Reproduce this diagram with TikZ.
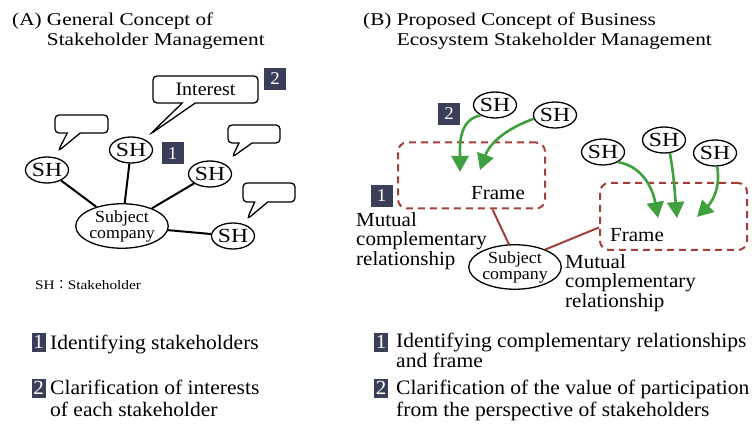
\documentclass[tikz,border=0pt]{standalone}
\usepackage{fontspec}
\setmainfont{Liberation Serif}
\newfontfamily\bodyfont{Liberation Serif}[FakeStretch=1.05]
\newfontfamily\widefont{Liberation Serif}[FakeStretch=1.18]
\newfontfamily\cjk{Noto Sans CJK JP}
\usetikzlibrary{positioning,calc,shapes.geometric,shapes.callouts,arrows.meta}

\definecolor{badgeblue}{RGB}{58,62,88}
\definecolor{framered}{RGB}{160,64,56}
\definecolor{arrowgreen}{RGB}{62,160,62}

\tikzset{
  sh/.style={draw,ellipse,line width=1.3pt,minimum width=43pt,minimum height=26pt,inner sep=0pt,font=\widefont\fontsize{20}{20}\selectfont},
  company/.style={draw,ellipse,line width=1.3pt,inner sep=0pt,align=center,font=\bodyfont\fontsize{17}{16}\selectfont},
  badge/.style={fill=badgeblue,text=white,inner sep=0pt,minimum width=22pt,minimum height=22pt,font=\bodyfont\fontsize{18}{18}\selectfont},
  smallbadge/.style={badge,minimum width=14pt,minimum height=19pt,font=\bodyfont\fontsize{20}{20}\selectfont},
  bubble/.style={draw,rectangle callout,rounded corners=4pt,line width=1.3pt,fill=white,callout pointer width=13pt,inner sep=0pt},
  frbox/.style={draw=framered,dash pattern=on 7pt off 5pt,line width=2pt,rounded corners=9pt,minimum width=147pt,minimum height=66pt},
  relation/.style={draw=framered,line width=2pt},
  valarrow/.style={-{Triangle[length=16pt,width=17pt]},draw=arrowgreen,line width=2.6pt},
  tie/.style={line width=2pt},
  heading/.style={anchor=north west,align=left,inner sep=0pt,font=\widefont\fontsize{18}{19.5}\selectfont},
  mutual/.style={anchor=north west,align=left,inner sep=0pt,font=\bodyfont\fontsize{20}{19.5}\selectfont},
  body/.style={anchor=base west,align=left,inner sep=0pt,font=\bodyfont\fontsize{20.5}{22}\selectfont},
}

\begin{document}
\begin{tikzpicture}[x=1pt,y=1pt]
\useasboundingbox (0,0) rectangle (752,426);

% (A) general concept
\node[heading] (ttlA) at (12,413) {(A) General Concept of\\\hphantom{(A) }Stakeholder Management};

\node[sh] (shA1) at (47,256) {SH};
\node[sh] (shA2) at (131,276) {SH};
\node[sh] (shA3) at (210,252) {SH};
\node[sh] (shA4) at (233,190) {SH};
\node[company,minimum width=80pt,minimum height=42pt] (subA) at (122,200) {Subject\\company};

\draw[tie] (shA1) -- (subA);
\draw[tie] (shA2) -- (subA);
\draw[tie] (shA3) -- (subA);
\draw[tie] (shA4) -- (subA);

\node[bubble,minimum width=105pt,minimum height=27pt,font=\bodyfont\fontsize{19}{19}\selectfont,
      callout absolute pointer={($(shA2.north)+(19,2)$)}] (intr) at (205.5,336.5) {Interest};
\node[bubble,minimum width=53pt,minimum height=18pt,
      callout absolute pointer={($(shA1.north)+(11,5)$)}] (bubA1) at (81.5,302) {};
\node[bubble,minimum width=52pt,minimum height=18pt,
      callout absolute pointer={($(shA3.north)+(22,3)$)}] (bubA3) at (254,292) {};
\node[bubble,minimum width=52pt,minimum height=19pt,
      callout absolute pointer={($(shA4.north)+(14,3)$)}] (bubA4) at (269,233.5) {};

\node[badge] (bA2) at (275,347) {2};
\node[badge] (bA1) at (172.5,272.5) {1};

\node[anchor=west,inner sep=0pt,font=\widefont\fontsize{13}{13}\selectfont] (legend) at (35,141) {SH{\cjk ：}Stakeholder};

% (B) business ecosystem
\node[heading] (ttlB) at (363,413) {(B) Proposed Concept of Business\\\hphantom{(B) }Ecosystem Stakeholder Management};

\node[frbox] (frL) at (471.5,250.5) {};
\node[frbox,minimum height=67pt] (frR) at (673.5,209.5) {};
\node[font=\bodyfont\fontsize{20}{20}\selectfont] (fmL) at (498,233) {Frame};
\node[font=\bodyfont\fontsize{20}{20}\selectfont] (fmR) at (637,191) {Frame};

\node[sh] (shB1) at (495,321) {SH};
\node[sh] (shB2) at (555,311) {SH};
\node[sh] (shB3) at (603,274) {SH};
\node[sh] (shB4) at (664,286) {SH};
\node[sh] (shB5) at (715,273) {SH};
\node[company,minimum width=84pt,minimum height=37pt] (subB) at (515,159) {Subject\\company};

\draw[relation] ($(frL.south)+(21,0)$) -- (subB.105);
\draw[relation] (subB.30) -- ($(frR.west)+(0,-11)$);

\coordinate (tip1) at (460,254);
\coordinate (tip2) at (480,256);
\coordinate (tip3) at (658,208);
\coordinate (tip4) at (677,208);
\coordinate (tip5) at (697,209);
\draw[valarrow] (shB1.216) to[out=190,in=90] (tip1);
\draw[valarrow] (shB2.190) to[out=200,in=70] (tip2);
\draw[valarrow] (shB3.326) to[out=-10,in=100] (tip3);
\draw[valarrow] (shB4.294) to[out=-80,in=95] (tip4);
\draw[valarrow] (shB5.279) to[out=-80,in=45] (tip5);

\node[badge] (bB2) at (449,312) {2};
\node[badge] (bB1) at (381.5,230) {1};

\node[mutual] (mcL) at (356,214) {Mutual\\complementary\\relationship};
\node[mutual] (mcR) at (565,172) {Mutual\\complementary\\relationship};

% steps
\node[smallbadge] (sA1) at (38.5,84) {1};
\node[body] (stA1) at (50,77) {Identifying stakeholders};
\node[smallbadge] (sA2) at (38.5,38) {2};
\node[body] (stA2) at (50,10) {Clarification of interests\\of each stakeholder};

\node[smallbadge] (sB1) at (381,84) {1};
\node[body,font=\bodyfont\fontsize{20.5}{20}\selectfont] (stB1) at (396,59) {Identifying complementary relationships\\and frame};
\node[smallbadge] (sB2) at (381,38) {2};
\node[body] (stB2) at (396,10) {Clarification of the value of participation\\from the perspective of stakeholders};
\end{tikzpicture}
\end{document}
